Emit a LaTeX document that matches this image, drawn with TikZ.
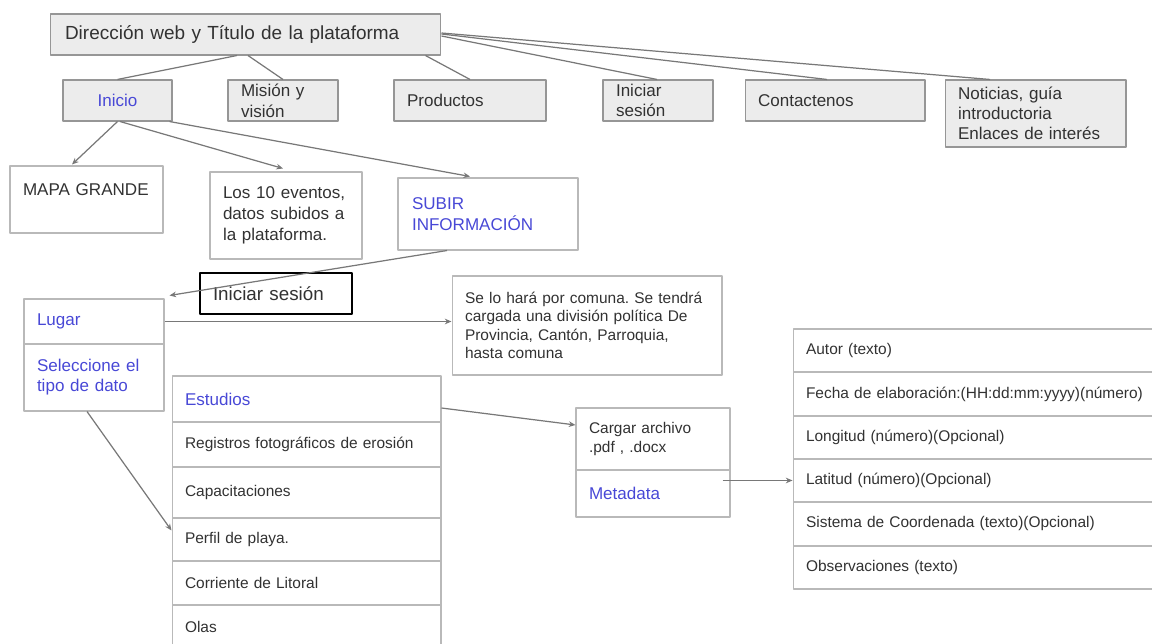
\documentclass[tikz,border=0pt]{standalone}
\usepackage{fontspec}
\setmainfont{Liberation Sans}
\usetikzlibrary{calc,arrows.meta}
\frenchspacing

\definecolor{azul}{RGB}{72,72,214}
\definecolor{borde}{RGB}{150,150,150}
\definecolor{bordeclaro}{RGB}{185,185,185}
\definecolor{fondo}{RGB}{236,236,236}
\definecolor{linea}{RGB}{120,120,120}
\definecolor{texto}{RGB}{50,50,50}

\newcommand{\letragrande}{\fontsize{9.7}{11.8}\selectfont}
\newcommand{\letrachica}{\fontsize{8.8}{10.4}\selectfont}

\begin{document}
\begin{tikzpicture}[x=0.02cm, y=-0.02cm, line join=round,
    caja/.style={draw=bordeclaro, line width=0.6pt, text=texto, align=left,
        inner xsep=0.26cm, inner ysep=0pt, font=\letragrande},
    gris/.style={caja, draw=borde, fill=fondo},
    fila/.style={caja, minimum width=5.38cm, text width=4.86cm, font=\letrachica},
    dato/.style={caja, minimum width=8cm, text width=7.48cm, font=\letrachica},
    rama/.style={draw=linea, line width=0.7pt},
    flecha/.style={rama, -{Stealth[length=3.8pt,width=3.2pt]}}]
    % marco de la imagen
    \useasboundingbox (0,0) rectangle (1152,644);
    \clip (0,0) rectangle (1152,644);

    % titulo y menu principal
    \node[gris, minimum width=7.82cm, text width=7.22cm, minimum height=0.82cm,
        inner xsep=0.3cm, font=\fontsize{10.8}{13}\selectfont] (titulo) at (245.5,34.5)
        {Dirección web y Título de la plataforma};
    \node[gris, minimum width=2.18cm, text width=1.66cm, minimum height=0.82cm,
        align=center, text=azul] (inicio) at (117.5,100.5) {Inicio};
    \node[gris, minimum width=2.2cm, text width=1.68cm, minimum height=0.82cm]
        (mision) at (283,100.5) {Misión y\\visión};
    \node[gris, minimum width=3.04cm, text width=2.52cm, minimum height=0.82cm]
        (productos) at (470,100.5) {Productos};
    \node[gris, minimum width=2.2cm, text width=1.68cm, minimum height=0.82cm]
        (iniciar) at (658,100.5) {Iniciar\\sesión};
    \node[gris, minimum width=3.6cm, text width=3.08cm, minimum height=0.82cm]
        (contacto) at (835,100.5) {Contactenos};
    \node[gris, minimum width=3.62cm, text width=3.1cm, minimum height=1.34cm,
        font=\fontsize{9.7}{11.3}\selectfont] (noticias) at (1035.5,113.5)
        {Noticias, guía\\introductoria\\Enlaces de interés};

    % contenido de inicio
    \node[caja, minimum width=3.06cm, text width=2.54cm, minimum height=1.34cm]
        (mapa) at (86.5,199.5) {MAPA GRANDE\\\mbox{}};
    \node[caja, minimum width=3.04cm, text width=2.52cm, minimum height=1.74cm,
        inner xsep=0.24cm, font=\fontsize{9.7}{12}\selectfont] (eventos) at (286,215.5)
        {Los 10 eventos,\\datos subidos a\\la plataforma.};
    \node[caja, minimum width=3.6cm, text width=3.04cm, minimum height=1.44cm,
        inner xsep=0.28cm, text=azul] (subir) at (488,214) {SUBIR\\INFORMACIÓN};
    \node[caja, draw=black, line width=1pt, minimum width=3.04cm, text width=2.52cm,
        minimum height=0.82cm, font=\fontsize{10.7}{13}\selectfont] (sesion) at (276,293.5)
        {Iniciar sesión};

    % formulario de subida
    \node[caja, minimum width=2.8cm, text width=2.28cm, minimum height=0.9cm,
        text=azul] (lugar) at (94,321.5) {Lugar};
    \node[caja, minimum width=2.8cm, text width=2.28cm, minimum height=1.34cm,
        text=azul, font=\fontsize{9.7}{11.3}\selectfont] (tipo) at (94,377.5)
        {Seleccione el\\tipo de dato};
    \node[caja, minimum width=5.4cm, text width=4.88cm, minimum height=1.98cm,
        font=\letrachica] (comuna) at (587,325.5)
        {Se lo hará por comuna. Se tendrá\\cargada una división política De\\Provincia, Cantón, Parroquia,\\hasta comuna};

    % tipos de dato
    \node[fila, minimum height=0.92cm, text=azul, font=\letragrande] (estudios) at (306.5,399) {Estudios};
    \node[fila, minimum height=0.9cm] (registros) at (306.5,444.5) {Registros fotográficos de erosión};
    \node[fila, minimum height=1.02cm] (capacitaciones) at (306.5,492.5) {Capacitaciones};
    \node[fila, minimum height=0.86cm] (perfil) at (306.5,539.5) {Perfil de playa.};
    \node[fila, minimum height=0.88cm] (corriente) at (306.5,583) {Corriente de Litoral};
    \node[fila, minimum height=0.88cm] (olas) at (306.5,627) {Olas};

    % archivo y metadata
    \node[caja, minimum width=3.08cm, text width=2.56cm, minimum height=1.24cm,
        inner xsep=0.24cm, font=\letrachica] (cargar) at (653,439) {Cargar archivo\\.pdf , .docx};
    \node[caja, minimum width=3.08cm, text width=2.56cm, minimum height=0.94cm,
        inner xsep=0.24cm, text=azul] (metadata) at (653,493.5) {Metadata};

    % campos de metadata
    \node[dato, minimum height=0.86cm] (autor) at (993,350.5) {Autor (texto)};
    \node[dato, minimum height=0.88cm] (fecha) at (993,394) {Fecha de elaboración:(HH:dd:mm:yyyy)(número)};
    \node[dato, minimum height=0.86cm] (longitud) at (993,437.5) {Longitud (número)(Opcional)};
    \node[dato, minimum height=0.86cm] (latitud) at (993,480.5) {Latitud (número)(Opcional)};
    \node[dato, minimum height=0.88cm] (sistema) at (993,524) {Sistema de Coordenada (texto)(Opcional)};
    \node[dato, minimum height=0.86cm] (observaciones) at (993,567.5) {Observaciones (texto)};

    % lineas del menu
    \draw[rama] ($(titulo.south)+(-8.5,0)$) -- (inicio.north);
    \draw[rama] ($(titulo.south)+(2.5,0)$) -- (mision.north);
    \draw[rama] ($(titulo.south east)+(-16,0)$) -- (productos.north);
    \draw[rama] ($(titulo.east)+(0,1.5)$) -- ($(iniciar.north)+(-1,0)$);
    \draw[rama] ($(titulo.east)+(0,-0.5)$) -- ($(contacto.north)+(-8,0)$);
    \draw[rama] ($(titulo.east)+(0,-1.5)$) -- ($(noticias.north)+(-45.5,0)$);

    % flechas
    \draw[flecha] (inicio.south) -- ($(mapa.north)+(-14.5,-1)$);
    \draw[flecha] ($(inicio.south)+(2.5,0)$) -- ($(eventos.north)+(-3,-3)$);
    \draw[flecha] ($(inicio.south east)+(-3,0)$) -- ($(subir.north)+(-18,-1)$);
    \draw[flecha] ($(subir.south)+(-41,0)$) -- ($(lugar.north east)+(5,-3)$);
    \draw[flecha] (lugar.east) -- (lugar.east -| comuna.west);
    \draw[flecha] ($(tipo.south)+(-7,0)$) -- ($(perfil.west)+(0,-9)$);
    \draw[flecha] ($(estudios.east)+(0,9)$) -- ($(cargar.west)+(0,-14)$);
    \coordinate (salida) at ($(metadata.east)+(-8,0)$);
    \draw[flecha] (salida |- latitud.west) -- (latitud.west);
\end{tikzpicture}
\end{document}
